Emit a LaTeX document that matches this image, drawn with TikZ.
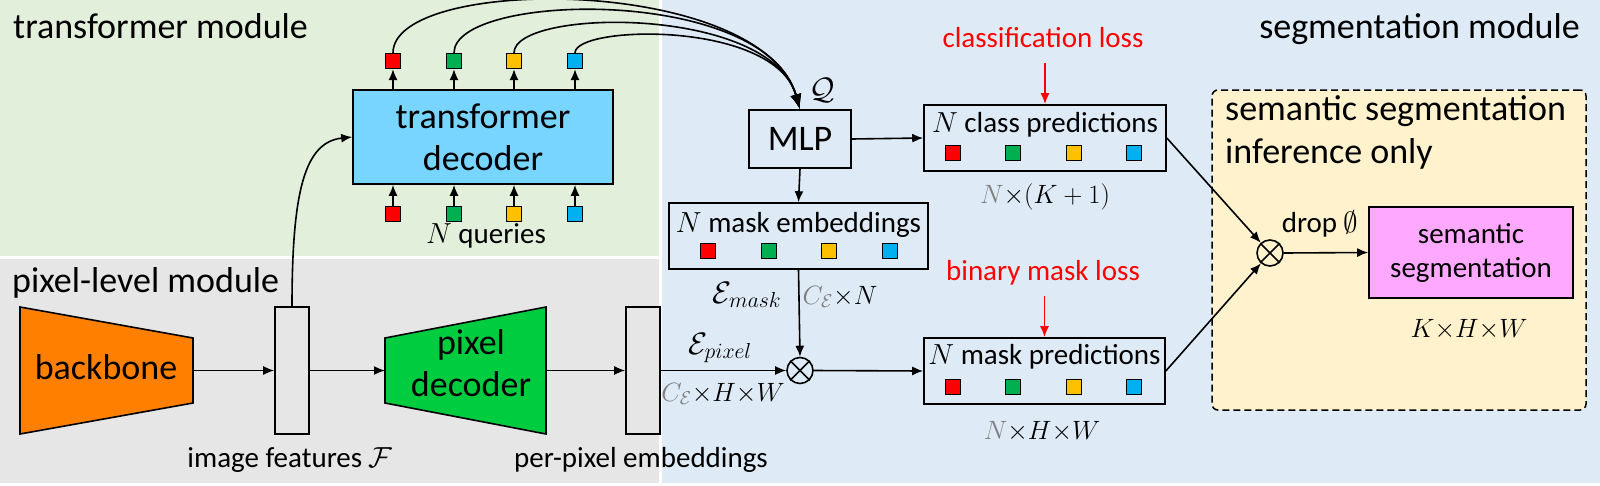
\documentclass[tikz,border=0pt]{standalone}
\usepackage{fix-cm}
\usepackage{fontspec}
\setmainfont{Carlito}
\usetikzlibrary{arrows.meta}
\definecolor{bggreen}{HTML}{E2EFDA}
\definecolor{bggray}{HTML}{E7E6E6}
\definecolor{bgblue}{HTML}{DEEBF7}
\definecolor{decblue}{HTML}{78D5FF}
\definecolor{cborange}{HTML}{FF8000}
\definecolor{cbgreen}{HTML}{00CC40}
\definecolor{cbpink}{HTML}{FFA8FF}
\definecolor{cbyellow}{HTML}{FFF2CC}
\definecolor{sqred}{HTML}{FF0000}
\definecolor{sqgreen}{HTML}{00B050}
\definecolor{sqyellow}{HTML}{FFC000}
\definecolor{sqblue}{HTML}{00B0F0}
\definecolor{cgray}{HTML}{7F7F7F}
\newcommand{\tms}{{\times}}
\begin{document}
\begin{tikzpicture}[x=1pt,y=-1pt,
  box/.style={draw, line width=1.6pt, inner sep=0pt},
  sq/.style={draw, line width=1.2pt, minimum size=15pt, inner sep=0pt},
  arr/.style={line width=1.6pt, -{Latex[length=11pt,width=9pt]}},
  bigarr/.style={line width=1.6pt, -{Latex[length=15pt,width=11pt]}},
  redarr/.style={line width=1.8pt, draw=red, -{Latex[length=11pt,width=9pt,color=red]}},
  ot/.style={circle, draw, line width=1.6pt, minimum size=26pt, inner sep=0pt},
  big/.style={font=\fontsize{36}{42}\selectfont},
  lab/.style={font=\fontsize{29}{34}\selectfont},
  mlab/.style={font=\fontsize{31}{36}\selectfont},
  dlab/.style={font=\fontsize{26.5}{32}\selectfont},
  trap/.style={draw=black, line width=1.6pt}]
\useasboundingbox (0,0) rectangle (1600,485);
% backgrounds
\fill[bggreen] (0,0) rectangle (659,256);
\fill[bggray] (0,259) rectangle (659,483);
\fill[bgblue] (662,0) rectangle (1600,483);
% region labels
\node[big, anchor=base west, inner sep=0] (tmlab) at (13,38) {transformer module};
\node[big, anchor=base east, inner sep=0] (smlab) at (1580,38) {segmentation module};
\node[big, anchor=base west, inner sep=0] (pmlab) at (12,292) {pixel-level module};
% inference only box
\node[draw, dashed, dash pattern=on 7pt off 4pt, line width=1.5pt, fill=cbyellow, rounded corners=6pt,
      minimum width=374, minimum height=320, inner sep=0] (inf) at (1399,250) {};
\node[big, anchor=base west, inner sep=0] (inf1) at (1225,120) {semantic segmentation};
\node[big, anchor=base west, inner sep=0] (inf2) at (1225,163) {inference only};
% backbone
\filldraw[cborange, trap] (20,307) -- (193,338) -- (193,403) -- (20,434) -- cycle;
\node[big, anchor=base, inner sep=0] (bb) at (106,379) {backbone};
\coordinate (bbR) at (193,370.5);
% image features
\node[box, minimum width=34, minimum height=127] (imf) at (292,370.5) {};
\node[lab, anchor=base, inner sep=0] (imflab) at (290,467) {image features $\mathcal{F}$};
% pixel decoder
\filldraw[cbgreen, trap] (385,338) -- (546,307) -- (546,434) -- (385,403) -- cycle;
\node[big, align=center, inner sep=0] (pd) at (471,363) {pixel\\decoder};
\coordinate (pdL) at (385,370.5);
\coordinate (pdR) at (546,370.5);
% per-pixel embeddings
\node[box, minimum width=34, minimum height=127] (ppe) at (643,370.5) {};
\node[lab, anchor=base, inner sep=0] (ppelab) at (641,467) {per-pixel embeddings};
% transformer decoder
\node[box, fill=decblue, big, align=center, minimum width=260, minimum height=94] (td) at (483,137) {transformer\\decoder};
\foreach \x/\c [count=\i] in {393/sqred,454/sqgreen,514/sqyellow,575/sqblue}{
  \node[sq, fill=\c] (tq\i) at (\x,61) {};
  \node[sq, fill=\c] (bq\i) at (\x,214) {};
  \draw[arr] (td.north -| tq\i) -- (tq\i.south);
  \draw[arr] (bq\i.north) -- (td.south -| bq\i);
}
\node[lab, anchor=base, inner sep=0] (nq) at (486,243) {$N$ queries};
% MLP
\node[box, big, minimum width=102, minimum height=58] (mlp) at (800,139) {MLP};
\node[mlab, inner sep=0] (qlab) at (822,90) {$\mathcal{Q}$};
\draw[bigarr] (tq1.north) .. controls (393,-25) and (760,-25) .. (mlp.north);
\draw[bigarr] (tq2.north) .. controls (454,-8) and (765,-15) .. (mlp.north);
\draw[bigarr] (tq3.north) .. controls (514,8) and (770,5) .. (mlp.north);
\draw[bigarr] (tq4.north) .. controls (575,25) and (775,20) .. (mlp.north);
% image features to transformer decoder
\draw[arr] (imf.north) .. controls (292,190) and (305,142) .. (td.west);
% mask embeddings
\node[box, minimum width=259, minimum height=66] (me) at (798.5,236) {};
\node[lab, anchor=base, inner sep=0] (melab) at (798.5,232) {$N$ mask embeddings};
\foreach \x/\c [count=\i] in {708/sqred,769/sqgreen,829/sqyellow,890/sqblue}{
  \node[sq, fill=\c] (mq\i) at (\x,251) {};
}
% class predictions
\node[box, minimum width=242, minimum height=66] (cp) at (1045,138) {};
\node[lab, anchor=base, inner sep=0] (cplab) at (1045,132) {$N$ class predictions};
\foreach \x/\c [count=\i] in {953/sqred,1013/sqgreen,1074/sqyellow,1134/sqblue}{
  \node[sq, fill=\c] (cq\i) at (\x,153) {};
}
\node[dlab, anchor=base, inner sep=0] (cpdim) at (1045,203) {$\textcolor{cgray}{N}\tms(K+1)$};
\node[lab, anchor=base, inner sep=0, text=red] (clsloss) at (1043,47) {classification loss};
\coordinate (clsstart) at (1045,63);
\draw[redarr] (clsstart) -- (cp.north);
% mask predictions
\node[box, minimum width=241, minimum height=66] (mp) at (1044.5,371) {};
\node[lab, anchor=base, inner sep=0] (mplab) at (1044.5,364) {$N$ mask predictions};
\foreach \x/\c [count=\i] in {953/sqred,1013/sqgreen,1074/sqyellow,1134/sqblue}{
  \node[sq, fill=\c] (pq\i) at (\x,387) {};
}
\node[dlab, anchor=base, inner sep=0] (mpdim) at (1042,439) {$\textcolor{cgray}{N}\tms H\tms W$};
\node[lab, anchor=base, inner sep=0, text=red] (bmloss) at (1043,280) {binary mask loss};
\coordinate (bmstart) at (1044.5,296);
\draw[redarr] (bmstart) -- (mp.north);
% otimes 1
\node[ot] (ot1) at (800,370.5) {};
\draw[line width=1.6pt] (ot1.north west) -- (ot1.south east) (ot1.north east) -- (ot1.south west);
\node[mlab, anchor=base, inner sep=0] (epix) at (720,354) {$\mathcal{E}_{pixel}$};
\node[dlab, anchor=base, inner sep=0] (epixdim) at (723,401) {$\textcolor{cgray}{C_{\mathcal{E}}}\tms H\tms W$};
\node[mlab, anchor=base, inner sep=0] (emask) at (747,303) {$\mathcal{E}_{mask}$};
\node[dlab, anchor=base, inner sep=0] (emaskdim) at (840,304) {$\textcolor{cgray}{C_{\mathcal{E}}}\tms N$};
% connections
\draw[arr] (bbR) -- (imf.west);
\draw[arr] (imf.east) -- (pdL);
\draw[arr] (pdR) -- (ppe.west);
\draw[arr] (ppe.east) -- (ot1.west);
\draw[arr] (mlp.south) -- (me.north);
\draw[arr] (mlp.east) -- (cp.west);
\draw[arr] (me.south) -- (ot1.north);
\draw[arr] (ot1.east) -- (mp.west);
% semantic segmentation
\node[ot] (ot2) at (1270,253) {};
\draw[line width=1.6pt] (ot2.north west) -- (ot2.south east) (ot2.north east) -- (ot2.south west);
\node[box, fill=cbpink, lab, align=center, minimum width=204, minimum height=91] (ss) at (1471,252.5) {semantic\\segmentation};
\node[dlab, anchor=base, inner sep=0] (ssdim) at (1469,337) {$K\tms H\tms W$};
\node[lab, anchor=base, inner sep=0] (drop) at (1320,232) {drop $\emptyset$};
\draw[arr] (cp.east) -- (ot2);
\draw[arr] (mp.east) -- (ot2);
\draw[arr] (ot2.east) -- (ss.west);
\end{tikzpicture}
\end{document}
